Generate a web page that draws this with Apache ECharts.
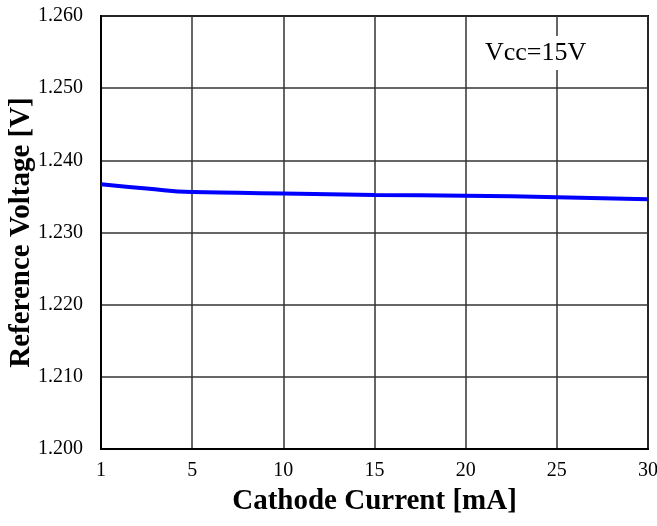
<!DOCTYPE html>
<html><head><meta charset="utf-8">
<script src="https://cdn.jsdelivr.net/npm/echarts@6/dist/echarts.min.js"></script>
<style>html,body{margin:0;padding:0;background:#fff}#c{width:657px;height:526px}</style>
</head><body><div id="c"></div>
<script>
var xTickLabels = ['1','5','10','15','20','25','30'];
var xPos = [0, 2.5, 5, 7.5, 10, 15, 20, 25, 30];
var vref = [1.2367, 1.2361, 1.2356, 1.2355, 1.2354, 1.2352, 1.2351, 1.2349, 1.2346];
var yTickLabels = ['1.200','1.210','1.220','1.230','1.240','1.250','1.260'];
var font = '"Liberation Serif","Times New Roman",serif';
var chart = echarts.init(document.getElementById('c'));
chart.setOption({
  animation:false,
  grid:{left:101,right:9,top:16,bottom:77,show:true,borderColor:'#000',borderWidth:2,outerBoundsMode:'none',containLabel:false},
  xAxis:{type:'value',min:0,max:30,interval:5,
    axisLine:{show:true,lineStyle:{color:'#000',width:2}},
    axisTick:{show:false},
    splitLine:{show:true,lineStyle:{color:'#333',width:1.5}},
    axisLabel:{color:'#000',fontFamily:font,fontSize:20,margin:12,
      formatter:function(v){return xTickLabels[Math.round(v/5)];}},
    name:'Cathode Current [mA]',nameLocation:'middle',nameGap:38,nameMoveOverlap:false,
    nameTextStyle:{color:'#000',fontFamily:font,fontSize:29,fontWeight:'bold'}},
  yAxis:{type:'value',min:1.2,max:1.26,interval:0.01,
    axisLine:{show:true,lineStyle:{color:'#000',width:2}},
    axisTick:{show:false},
    splitLine:{show:true,lineStyle:{color:'#333',width:1.5}},
    axisLabel:{color:'#000',fontFamily:font,fontSize:20,margin:18,
      formatter:function(v){return yTickLabels[Math.round((v-1.2)/0.01)];}},
    name:'Reference Voltage [V]',nameLocation:'middle',nameGap:65,nameMoveOverlap:false,
    nameTextStyle:{color:'#000',fontFamily:font,fontSize:29,fontWeight:'bold'}},
  graphic:[{type:'text',left:481,top:36,z:100,style:{text:'Vcc=15V',fill:'#000',font:'26px '+font,backgroundColor:'#fff',padding:[4,4]}}],
  series:[{type:'line',smooth:true,symbol:'none',
    lineStyle:{color:'#0000ff',width:4},
    data:xPos.map(function(x,i){return [x,vref[i]];})}]
});
</script></body></html>
